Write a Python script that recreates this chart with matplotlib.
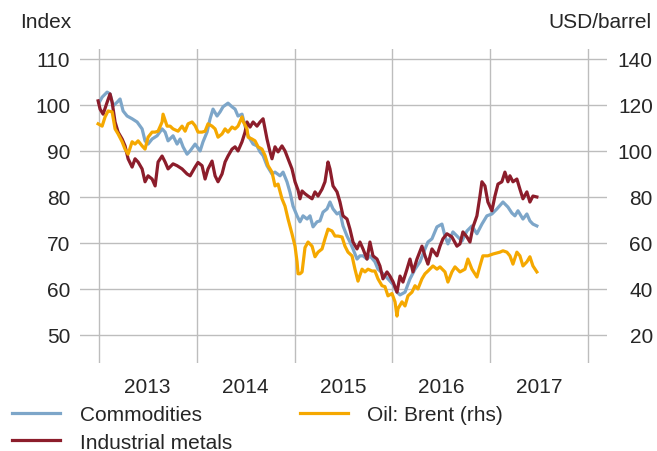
import numpy as np
import matplotlib
matplotlib.use("Agg")
import matplotlib.pyplot as plt
from matplotlib.lines import Line2D

plt.rcParams['font.family'] = ['Liberation Sans', 'DejaVu Sans']

# ---- data (decimal years, index values / USD per barrel) ----
comm_t = [2013.005, 2013.036, 2013.087, 2013.117, 2013.148, 2013.189, 2013.219, 2013.250, 2013.291, 2013.342,
          2013.393, 2013.444, 2013.474, 2013.505, 2013.546, 2013.597, 2013.648, 2013.679, 2013.709, 2013.760,
          2013.801, 2013.832, 2013.862, 2013.903, 2013.934, 2013.985, 2014.036, 2014.066, 2014.107, 2014.138,
          2014.168, 2014.209, 2014.240, 2014.270, 2014.321, 2014.362, 2014.393, 2014.423, 2014.464, 2014.495,
          2014.526, 2014.577, 2014.617, 2014.648, 2014.679, 2014.719, 2014.770, 2014.801, 2014.852, 2014.883,
          2014.923, 2014.954, 2014.985, 2015.026, 2015.056, 2015.087, 2015.128, 2015.158, 2015.189, 2015.230,
          2015.260, 2015.291, 2015.332, 2015.362, 2015.393, 2015.434, 2015.464, 2015.495, 2015.536, 2015.566,
          2015.597, 2015.638, 2015.668, 2015.699, 2015.740, 2015.770, 2015.821, 2015.852, 2015.903, 2015.954,
          2016.005, 2016.046, 2016.077, 2016.128, 2016.179, 2016.230, 2016.281, 2016.332, 2016.362, 2016.403,
          2016.454, 2016.505, 2016.536, 2016.566, 2016.617, 2016.668, 2016.709, 2016.760, 2016.811, 2016.862,
          2016.913, 2016.964, 2017.015, 2017.066, 2017.128, 2017.179, 2017.219, 2017.250, 2017.281, 2017.332,
          2017.372, 2017.403, 2017.434, 2017.474]
comm_v = [100.5, 101.7, 102.8, 102.4, 99.8, 100.6, 101.3, 98.7, 97.6, 97.0,
          96.3, 94.8, 92.2, 91.5, 92.6, 93.3, 94.8, 94.1, 92.2, 93.3,
          91.5, 92.6, 90.9, 89.3, 90.0, 91.5, 90.0, 92.0, 94.1, 97.0,
          99.1, 97.6, 98.5, 99.6, 100.4, 99.6, 99.1, 97.6, 98.0, 95.4,
          93.3, 91.5, 91.1, 89.8, 89.0, 86.8, 85.0, 85.4, 84.6, 85.4,
          83.3, 81.0, 78.0, 75.9, 74.6, 75.9, 75.2, 75.9, 73.5, 74.6,
          74.8, 76.7, 77.4, 78.9, 77.4, 76.3, 76.7, 73.7, 71.5, 70.2,
          68.7, 66.5, 67.2, 67.2, 66.5, 67.2, 65.9, 64.3, 63.3, 62.2,
          61.0, 59.3, 58.7, 59.3, 62.2, 64.3, 65.9, 68.7, 70.2, 70.9,
          73.5, 74.1, 71.5, 69.8, 72.4, 71.3, 70.4, 72.6, 73.7, 72.0,
          74.1, 75.9, 76.3, 77.4, 78.9, 77.8, 76.5, 75.9, 77.0, 75.2,
          76.3, 74.8, 74.1, 73.7]

metal_t = [2012.995, 2013.015, 2013.046, 2013.087, 2013.117, 2013.138, 2013.168, 2013.199, 2013.240, 2013.270,
           2013.301, 2013.342, 2013.372, 2013.403, 2013.444, 2013.474, 2013.505, 2013.546, 2013.577, 2013.607,
           2013.648, 2013.679, 2013.709, 2013.760, 2013.801, 2013.852, 2013.903, 2013.934, 2013.985, 2014.015,
           2014.056, 2014.087, 2014.117, 2014.158, 2014.189, 2014.219, 2014.260, 2014.291, 2014.321, 2014.362,
           2014.393, 2014.423, 2014.464, 2014.495, 2014.515, 2014.546, 2014.577, 2014.617, 2014.648, 2014.679,
           2014.719, 2014.750, 2014.770, 2014.801, 2014.832, 2014.872, 2014.903, 2014.934, 2014.974, 2015.005,
           2015.036, 2015.056, 2015.077, 2015.107, 2015.138, 2015.179, 2015.209, 2015.240, 2015.281, 2015.311,
           2015.342, 2015.362, 2015.393, 2015.434, 2015.464, 2015.495, 2015.536, 2015.566, 2015.597, 2015.638,
           2015.668, 2015.699, 2015.740, 2015.770, 2015.801, 2015.842, 2015.872, 2015.903, 2015.944, 2015.974,
           2016.005, 2016.046, 2016.077, 2016.107, 2016.148, 2016.179, 2016.209, 2016.250, 2016.301, 2016.332,
           2016.362, 2016.403, 2016.454, 2016.485, 2016.515, 2016.556, 2016.607, 2016.658, 2016.689, 2016.719,
           2016.760, 2016.791, 2016.821, 2016.862, 2016.893, 2016.913, 2016.944, 2016.974, 2017.015, 2017.046,
           2017.077, 2017.117, 2017.148, 2017.179, 2017.199, 2017.230, 2017.270, 2017.301, 2017.332, 2017.372,
           2017.403, 2017.434, 2017.474]
metal_v = [100.9, 99.1, 98.0, 100.6, 102.4, 100.6, 96.3, 94.1, 92.6, 91.1,
           88.3, 86.5, 88.3, 87.6, 86.1, 83.3, 84.6, 83.9, 82.4, 87.6,
           88.9, 87.6, 86.1, 87.2, 86.8, 86.1, 85.0, 84.6, 86.5, 87.5,
           86.8, 83.9, 86.1, 87.8, 84.6, 83.3, 85.0, 87.6, 88.9, 90.4,
           90.9, 90.0, 92.0, 94.1, 96.3, 95.2, 96.3, 95.4, 96.3, 97.0,
           92.6, 89.8, 88.3, 90.9, 89.8, 91.1, 90.0, 88.3, 86.1, 83.3,
           81.5, 79.6, 81.3, 80.7, 80.2, 79.6, 81.1, 80.2, 81.7, 83.3,
           87.6, 86.1, 82.4, 81.1, 78.9, 75.9, 75.2, 73.0, 70.2, 68.7,
           70.2, 68.7, 66.5, 70.2, 67.2, 66.5, 65.0, 62.2, 63.7, 62.8,
           61.6, 59.3, 62.8, 61.5, 64.3, 66.5, 63.7, 66.5, 69.3, 67.2,
           65.4, 68.7, 67.2, 69.3, 70.9, 72.0, 71.3, 69.3, 69.8, 72.4,
           71.3, 70.2, 73.4, 75.9, 80.2, 83.3, 82.4, 78.9, 77.0, 80.2,
           82.8, 83.3, 85.4, 83.3, 84.6, 83.3, 83.9, 81.7, 79.6, 81.1,
           78.9, 80.2, 80.0]

oil_t = [2012.995, 2013.036, 2013.066, 2013.097, 2013.138, 2013.168, 2013.199, 2013.240, 2013.270, 2013.301,
         2013.342, 2013.372, 2013.403, 2013.444, 2013.474, 2013.505, 2013.546, 2013.577, 2013.607, 2013.648,
         2013.658, 2013.699, 2013.730, 2013.760, 2013.811, 2013.852, 2013.883, 2013.913, 2013.954, 2013.985,
         2014.015, 2014.056, 2014.087, 2014.117, 2014.158, 2014.189, 2014.219, 2014.260, 2014.291, 2014.321,
         2014.362, 2014.393, 2014.423, 2014.464, 2014.474, 2014.515, 2014.526, 2014.566, 2014.597, 2014.628,
         2014.668, 2014.699, 2014.730, 2014.770, 2014.801, 2014.832, 2014.872, 2014.903, 2014.934, 2014.974,
         2015.005, 2015.026, 2015.036, 2015.056, 2015.077, 2015.107, 2015.138, 2015.179, 2015.209, 2015.240,
         2015.281, 2015.311, 2015.342, 2015.383, 2015.413, 2015.444, 2015.485, 2015.515, 2015.546, 2015.587,
         2015.617, 2015.648, 2015.689, 2015.719, 2015.750, 2015.791, 2015.821, 2015.852, 2015.893, 2015.923,
         2015.954, 2015.995, 2016.026, 2016.046, 2016.056, 2016.097, 2016.128, 2016.158, 2016.199, 2016.230,
         2016.260, 2016.301, 2016.332, 2016.362, 2016.413, 2016.454, 2016.485, 2016.536, 2016.566, 2016.607,
         2016.638, 2016.689, 2016.740, 2016.770, 2016.811, 2016.862, 2016.893, 2016.923, 2016.974, 2017.026,
         2017.097, 2017.128, 2017.168, 2017.199, 2017.230, 2017.270, 2017.301, 2017.332, 2017.372, 2017.403,
         2017.434, 2017.474]
oil_v = [111.8, 110.8, 114.8, 117.4, 117.0, 109.6, 107.4, 104.0, 100.8, 98.6,
         104.0, 103.0, 104.4, 102.2, 100.8, 106.0, 108.2, 108.2, 108.6, 112.6,
         116.0, 110.8, 110.8, 109.6, 108.6, 110.8, 108.6, 111.8, 112.6, 111.0,
         108.2, 108.2, 108.6, 111.8, 110.8, 109.6, 106.0, 107.4, 109.6, 108.2,
         110.4, 109.6, 110.8, 114.8, 113.0, 109.6, 106.0, 105.2, 104.4, 101.8,
         100.8, 98.0, 93.6, 90.8, 84.8, 85.6, 79.2, 76.0, 70.4, 64.0,
         58.6, 51.8, 46.6, 46.6, 47.4, 58.0, 60.4, 58.6, 54.0, 56.0,
         57.4, 61.8, 66.0, 65.2, 63.0, 63.0, 62.6, 58.6, 56.0, 54.4,
         48.6, 43.4, 48.6, 47.4, 48.6, 47.8, 47.8, 44.4, 41.4, 41.0,
         37.0, 38.0, 34.4, 28.2, 31.4, 34.4, 32.6, 37.0, 38.6, 41.4,
         40.0, 44.4, 46.6, 47.8, 50.0, 48.6, 49.6, 47.4, 43.0, 47.4,
         49.6, 47.4, 48.6, 53.0, 48.6, 45.2, 50.0, 54.4, 54.4, 55.2,
         56.0, 56.6, 56.0, 54.4, 50.8, 56.0, 54.4, 50.0, 51.8, 54.0,
         50.0, 47.4]

years = [2013, 2014, 2015, 2016, 2017, 2018]
year_labels = ['2013', '2014', '2015', '2016', '2017']
left_ticks = [50, 60, 70, 80, 90, 100, 110]
right_ticks = [20, 40, 60, 80, 100, 120, 140]

c_comm = '#7da6c9'
c_metal = '#8c1d2b'
c_oil = '#f5a800'
c_text = '#262626'
c_grid = '#bdbdbd'
fs = 15
lw = 2.3

fig = plt.figure(figsize=(6.57, 4.52), dpi=100)
ax = fig.add_axes([80/657, 1-364/452, 527/657, 314/452])
ax2 = ax.twinx()

ylo, yhi = 43.9, 112.17
ax.set_ylim(ylo, yhi)
ax2.set_ylim(2*ylo - 80, 2*yhi - 80)
ax.set_xlim(2012.81, 2018.19)

for a in (ax, ax2):
    for s in a.spines.values():
        s.set_visible(False)

ax.set_yticks(left_ticks)
ax.set_yticklabels([str(t) for t in left_ticks])
ax2.set_yticks(right_ticks)
ax2.set_yticklabels([str(t) for t in right_ticks], ha='right')
ax.tick_params(axis='y', length=0, pad=7, labelsize=fs, labelcolor=c_text)
ax2.tick_params(axis='y', length=0, pad=33, labelsize=fs, labelcolor=c_text)

ax.set_xticks(years)
ax.set_xticklabels([])
ax.set_xticks([y + 0.5 for y in years[:-1]], minor=True)
ax.set_xticklabels(year_labels, minor=True)
ax.tick_params(axis='x', which='both', length=0, pad=10, labelsize=fs, labelcolor=c_text)

ax.set_axisbelow(True)
ax.grid(True, axis='both', which='major', color=c_grid, lw=1.0)

ax.plot(comm_t, comm_v, color=c_comm, lw=lw, solid_joinstyle='round')
ax.plot(metal_t, metal_v, color=c_metal, lw=lw, solid_joinstyle='round')
ax2.plot(oil_t, oil_v, color=c_oil, lw=lw, solid_joinstyle='round')

fig.text(20/657, 1-22/452, 'Index', fontsize=fs, color=c_text, va='center', ha='left')
fig.text(652/657, 1-22/452, 'USD/barrel', fontsize=fs, color=c_text, va='center', ha='right')

handles = [Line2D([], [], color=c_comm, lw=lw),
           Line2D([], [], color=c_metal, lw=lw),
           Line2D([], [], color=c_oil, lw=lw)]
labels = ['Commodities', 'Industrial metals', 'Oil: Brent (rhs)']
fig.legend(handles, labels, loc='upper left', bbox_to_anchor=(12/657, 1-406/452),
           ncol=2, frameon=False, fontsize=fs, handlelength=2.3, handletextpad=0.95,
           columnspacing=3.25, labelspacing=0.42, borderpad=0, borderaxespad=0,
           labelcolor=c_text)

fig.savefig('out.png', dpi=100)
